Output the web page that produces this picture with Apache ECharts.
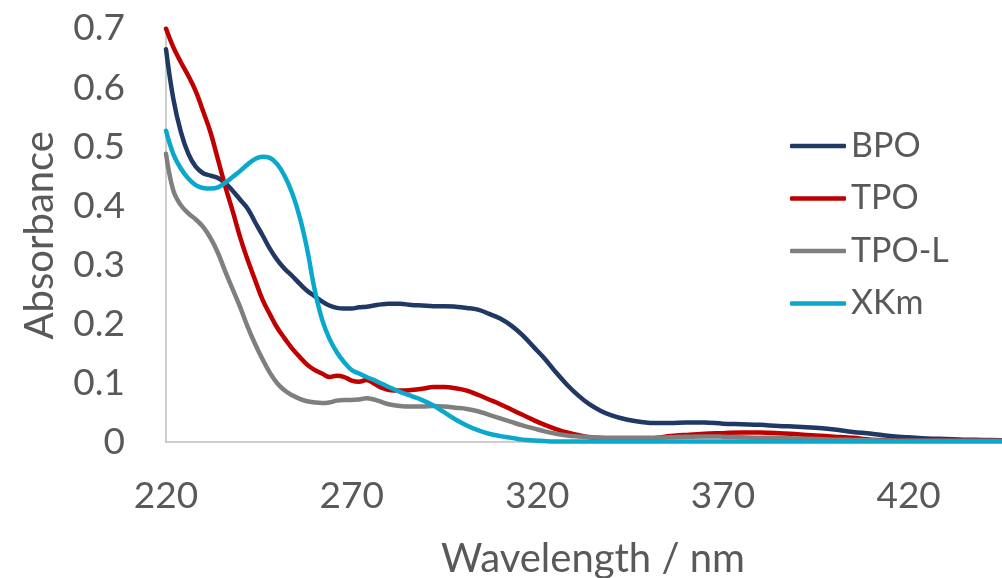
<!DOCTYPE html>
<html>
<head>
<meta charset="utf-8">
<script src="https://cdn.jsdelivr.net/npm/echarts@6/dist/echarts.min.js"></script>
<style>
  html, body { margin: 0; padding: 0; background: #ffffff; }
  #chart { width: 1002px; height: 578px; }
</style>
</head>
<body>
<div id="chart"></div>
<script>
// UV-vis absorption spectra, absorbance vs wavelength (nm)
const wavelength = [
  220, 222, 224, 226, 228, 230, 232, 234, 236, 238, 240, 242, 244, 246, 248, 250,
  252, 254, 256, 258, 260, 262, 264, 266, 268, 270, 272, 274, 276, 278, 280,
  283, 286, 289, 292, 295, 298, 301, 304, 307, 310, 313, 316, 319, 322, 325, 328,
  331, 334, 337, 340,
  344, 348, 352, 356, 360,
  365, 370, 375, 380, 385, 390, 395, 400, 405, 410, 415, 420, 425, 430, 435, 440, 445, 450
];

const bpo = [
  0.665, 0.58, 0.525, 0.488, 0.466, 0.455, 0.451, 0.447, 0.438, 0.425, 0.41, 0.395, 0.372, 0.35, 0.327, 0.308,
  0.293, 0.281, 0.268, 0.256, 0.247, 0.238, 0.231, 0.227, 0.226, 0.226, 0.228, 0.229, 0.231, 0.233, 0.234,
  0.234, 0.232, 0.231, 0.230, 0.230, 0.229, 0.227, 0.224, 0.217, 0.209, 0.197, 0.181, 0.161, 0.141, 0.118, 0.097,
  0.079, 0.064, 0.053, 0.045,
  0.038, 0.034, 0.032, 0.032, 0.033,
  0.033, 0.031, 0.030, 0.029, 0.027, 0.026, 0.024, 0.021, 0.017, 0.014, 0.010, 0.008, 0.006, 0.005, 0.004, 0.0035, 0.003, 0.003
];

const tpo = [
  0.700, 0.668, 0.643, 0.620, 0.594, 0.560, 0.524, 0.478, 0.432, 0.390, 0.346, 0.308, 0.274, 0.241, 0.216, 0.193,
  0.175, 0.158, 0.144, 0.131, 0.122, 0.116, 0.110, 0.112, 0.110, 0.104, 0.102, 0.105, 0.099, 0.092, 0.088,
  0.087, 0.088, 0.090, 0.093, 0.093, 0.091, 0.087, 0.080, 0.072, 0.064, 0.055, 0.046, 0.037, 0.029, 0.022, 0.016,
  0.012, 0.008, 0.006, 0.005,
  0.0045, 0.005, 0.007, 0.010, 0.012,
  0.014, 0.015, 0.016, 0.016, 0.015, 0.013, 0.011, 0.009, 0.007, 0.004, 0.003, 0.002, 0.002, 0.002, 0.002, 0.002, 0.002, 0.002
];

const tpoL = [
  0.488, 0.425, 0.401, 0.387, 0.377, 0.364, 0.345, 0.320, 0.288, 0.258, 0.228, 0.195, 0.166, 0.140, 0.117, 0.099,
  0.087, 0.079, 0.073, 0.069, 0.067, 0.066, 0.067, 0.070, 0.071, 0.071, 0.072, 0.074, 0.072, 0.068, 0.064,
  0.061, 0.060, 0.060, 0.061, 0.060, 0.058, 0.056, 0.052, 0.046, 0.040, 0.034, 0.028, 0.023, 0.018, 0.014, 0.011,
  0.0095, 0.0085, 0.0078, 0.0073,
  0.007, 0.007, 0.0073, 0.008, 0.009,
  0.0095, 0.009, 0.008, 0.007, 0.007, 0.006, 0.005, 0.004, 0.0035, 0.003, 0.0025, 0.002, 0.002, 0.002, 0.002, 0.002, 0.002, 0.002
];

const xkm = [
  0.527, 0.487, 0.463, 0.446, 0.435, 0.430, 0.429, 0.431, 0.439, 0.449, 0.459, 0.470, 0.479, 0.483, 0.481, 0.470,
  0.450, 0.421, 0.381, 0.327, 0.259, 0.208, 0.175, 0.152, 0.135, 0.122, 0.116, 0.110, 0.105, 0.099, 0.093,
  0.085, 0.078, 0.071, 0.062, 0.050, 0.038, 0.028, 0.020, 0.014, 0.010, 0.007, 0.004, 0.0025, 0.0015, 0.001, 0.001,
  0.001, 0.001, 0.001, 0.001,
  0.001, 0.001, 0.001, 0.001, 0.001,
  0.001, 0.001, 0.001, 0.001, 0.001, 0.001, 0.001, 0.001, 0.001, 0.001, 0.001, 0.001, 0.001, 0.001, 0.001, 0.001, 0.001, 0.001
];

const seriesNames = ['BPO', 'TPO', 'TPO-L', 'XKm'];
const seriesValues = [bpo, tpo, tpoL, xkm];
const seriesColors = ['#203864', '#C00000', '#7F7F7F', '#0AA8CB'];

const FONT = 'Lato';
const TEXT = '#595959';
const AXIS = '#BFBFBF';
const LINE_W = 4.5;

const chart = echarts.init(document.getElementById('chart'), null, { renderer: 'canvas' });

chart.setOption({
  backgroundColor: '#ffffff',
  animation: false,
  textStyle: { fontFamily: FONT },
  grid: {
    left: 166,
    top: 28.5,
    width: 854,
    height: 413.5,
    containLabel: false,
    outerBoundsMode: 'none'
  },
  legend: {
    orient: 'vertical',
    left: 790,
    top: 129,
    padding: 0,
    icon: 'roundRect',
    itemWidth: 56,
    itemHeight: LINE_W,
    itemGap: 18.5,
    data: seriesNames,
    textStyle: { fontFamily: FONT, fontSize: 34, color: TEXT, lineHeight: 34 }
  },
  xAxis: {
    type: 'value',
    min: 220,
    max: 450,
    interval: 50,
    name: 'Wavelength / nm',
    nameLocation: 'middle',
    nameGap: 97,
    nameTextStyle: { fontFamily: FONT, fontSize: 40, color: TEXT },
    axisLine: { show: true, onZero: false, lineStyle: { color: AXIS, width: 1.5 } },
    axisTick: { show: false },
    splitLine: { show: false },
    axisLabel: {
      showMaxLabel: false,
      margin: 36,
      fontFamily: FONT,
      fontSize: 37,
      color: TEXT
    }
  },
  yAxis: {
    type: 'value',
    min: 0,
    max: 0.7,
    interval: 0.1,
    name: 'Absorbance',
    nameLocation: 'middle',
    nameGap: 106,
    nameTextStyle: { fontFamily: FONT, fontSize: 40, color: TEXT },
    axisLine: { show: true, lineStyle: { color: AXIS, width: 1.5 } },
    axisTick: { show: false },
    splitLine: { show: false },
    axisLabel: {
      margin: 41,
      fontFamily: FONT,
      fontSize: 37,
      color: TEXT,
      formatter: v => String(Math.round(v * 10) / 10)
    }
  },
  series: seriesNames.map((name, i) => ({
    name: name,
    type: 'line',
    data: wavelength.map((w, k) => [w, seriesValues[i][k]]),
    smooth: 0.4,
    symbol: 'none',
    clip: true,
    color: seriesColors[i],
    itemStyle: { color: seriesColors[i] },
    lineStyle: { color: seriesColors[i], width: LINE_W, cap: 'round', join: 'round' }
  }))
});
</script>
</body>
</html>
